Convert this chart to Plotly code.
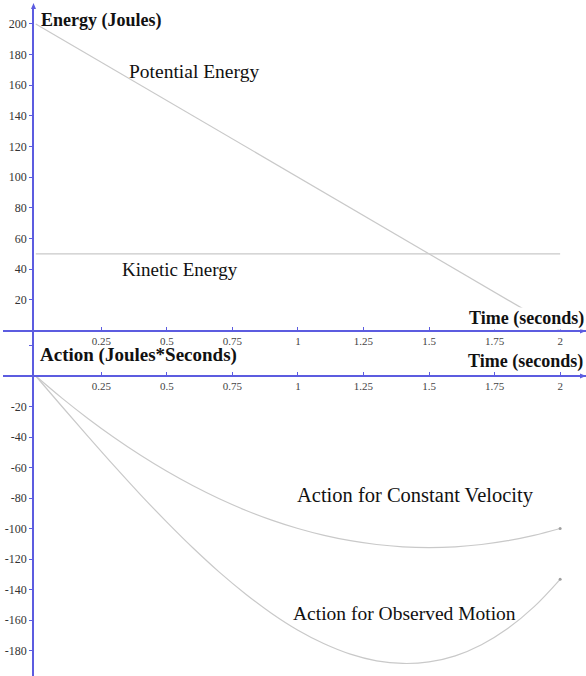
import plotly.graph_objects as go

# ---------------- data ----------------
time_s = [0.0, 0.1, 0.2, 0.3, 0.4, 0.5, 0.6, 0.7, 0.8, 0.9, 1.0,
          1.1, 1.2, 1.3, 1.4, 1.5, 1.6, 1.7, 1.8, 1.9, 2.0]
potential_time = [0.0, 2.0]
potential_energy = [200, 0]
kinetic_time = [0.0, 2.0]
kinetic_energy = [50, 50]
action_constant_velocity = [0, -14.5, -28, -40.5, -52, -62.5, -72, -80.5, -88, -94.5, -100,
                            -104.5, -108, -110.5, -112, -112.5, -112, -110.5, -108, -104.5, -100]
action_observed_motion = [0, -20.0, -39.7, -59.1, -77.9, -95.8, -112.8, -128.6, -142.9, -155.7, -166.7,
                          -175.6, -182.4, -186.8, -188.5, -187.5, -183.5, -176.2, -165.6, -151.4, -133.3]
end_time = [2.0]
end_constant = [-100]
end_observed = [-133.3]

x_tick_vals = [0.25, 0.5, 0.75, 1, 1.25, 1.5, 1.75, 2]
x_tick_text = ["0.25", "0.5", "0.75", "1", "1.25", "1.5", "1.75", "2"]
energy_tick_vals = [20, 40, 60, 80, 100, 120, 140, 160, 180, 200]
energy_tick_text = ["20", "40", "60", "80", "100", "120", "140", "160", "180", "200"]
action_tick_vals = [20, -20, -40, -60, -80, -100, -120, -140, -160, -180]
action_tick_text = ["", "-20", "-40", "-60", "-80", "-100", "-120", "-140", "-160", "-180"]

# ---------------- layout helpers ----------------
W, H = 586, 676
AXIS = "#5c5ce0"
CURVE = "#c9c9c9"
SERIF = "Liberation Serif, Times New Roman, serif"


def px(x):
    return x / W


def py(y):
    return 1 - y / H


x0_px, unit_x = 33.0, 263.5
x_range = [-x0_px / unit_x, (W - x0_px) / unit_x]

top_zero_px, top_scale = 330.5, 1.533
top_top_px, top_bottom_px = 7, 331
bot_zero_px, bot_scale = 376.0, 1.525

fig = go.Figure()

fig.add_trace(go.Scatter(x=potential_time, y=potential_energy, mode="lines",
                         line=dict(color=CURVE, width=1.2), xaxis="x", yaxis="y",
                         hoverinfo="skip"))
fig.add_trace(go.Scatter(x=kinetic_time, y=kinetic_energy, mode="lines",
                         line=dict(color=CURVE, width=1.2), xaxis="x", yaxis="y",
                         hoverinfo="skip"))
fig.add_trace(go.Scatter(x=time_s, y=action_constant_velocity, mode="lines",
                         line=dict(color=CURVE, width=1.2, shape="spline"),
                         xaxis="x2", yaxis="y2", hoverinfo="skip"))
fig.add_trace(go.Scatter(x=time_s, y=action_observed_motion, mode="lines",
                         line=dict(color=CURVE, width=1.2, shape="spline"),
                         xaxis="x2", yaxis="y2", hoverinfo="skip"))
fig.add_trace(go.Scatter(x=end_time + end_time, y=end_constant + end_observed, mode="markers",
                         marker=dict(color="#a0a0a0", size=3), xaxis="x2", yaxis="y2",
                         hoverinfo="skip"))

tickfont_y = dict(family=SERIF, size=12, color="#333333")
tickfont_x = dict(family=SERIF, size=11, color="#444444")

common_x = dict(range=x_range, domain=[0.005, 1], showline=True, linecolor=AXIS, linewidth=1.5,
                showgrid=False, zeroline=False, tickmode="array", tickvals=x_tick_vals,
                ticktext=x_tick_text, ticks="inside", ticklen=3, tickcolor=AXIS,
                tickfont=tickfont_x, anchor="free", side="bottom")
common_y = dict(showline=True, linecolor=AXIS, linewidth=1.5, showgrid=False, zeroline=False,
                tickmode="array", ticks="outside", ticklen=3, tickcolor=AXIS,
                tickfont=tickfont_y, anchor="free", position=px(x0_px), side="left")

fig.update_layout(
    width=W, height=H, margin=dict(l=0, r=0, t=0, b=0),
    paper_bgcolor="white", plot_bgcolor="white", showlegend=False,
    xaxis=dict(common_x, position=py(top_bottom_px)),
    xaxis2=dict(common_x, position=py(bot_zero_px)),
    yaxis=dict(common_y, domain=[py(top_bottom_px), py(top_top_px)],
               range=[(top_zero_px - top_bottom_px) / top_scale, (top_zero_px - top_top_px) / top_scale],
               tickvals=energy_tick_vals, ticktext=energy_tick_text),
    yaxis2=dict(common_y, domain=[0, py(top_bottom_px)],
                range=[-(H - bot_zero_px) / bot_scale, (bot_zero_px - top_bottom_px) / bot_scale],
                tickvals=action_tick_vals, ticktext=action_tick_text),
)

ann = []


def label(text, x, y, size, bold=False, xanchor="left", bg=None):
    t = f"<b>{text}</b>" if bold else text
    d = dict(text=t, x=px(x), y=py(y), xref="paper", yref="paper", xanchor=xanchor,
             yanchor="middle", showarrow=False,
             font=dict(family=SERIF, size=size, color="#111111"))
    if bg:
        d["bgcolor"] = bg
        d["borderpad"] = 0
    ann.append(d)


label("Energy (Joules)", 39, 20, 18, bold=True)
label("Time (seconds)", 585, 318, 18, bold=True, xanchor="right", bg="white")
label("Action (Joules*Seconds)", 38, 355, 19, bold=True)
label("Time (seconds)", 585, 361, 18, bold=True, xanchor="right")
label("Potential Energy", 127, 72, 19.5)
label("Kinetic Energy", 120, 270, 19)
label("Action for Constant Velocity", 295, 495, 20.5)
label("Action for Observed Motion", 291, 613, 19.5)
fig.update_layout(annotations=ann)

# arrow heads at axis ends
shapes = [
    dict(type="path", xref="paper", yref="paper",
         path=f"M {px(31)},{py(9)} L {px(33.5)},{py(3)} L {px(36)},{py(9)} Z",
         fillcolor=AXIS, line=dict(color=AXIS, width=0)),
    dict(type="path", xref="paper", yref="paper",
         path=f"M {px(580)},{py(top_bottom_px - 2.5)} L {px(586)},{py(top_bottom_px)} L {px(580)},{py(top_bottom_px + 2.5)} Z",
         fillcolor=AXIS, line=dict(color=AXIS, width=0)),
    dict(type="path", xref="paper", yref="paper",
         path=f"M {px(580)},{py(bot_zero_px - 2.5)} L {px(586)},{py(bot_zero_px)} L {px(580)},{py(bot_zero_px + 2.5)} Z",
         fillcolor=AXIS, line=dict(color=AXIS, width=0)),
]
fig.update_layout(shapes=shapes)

fig.write_html("out.html")
